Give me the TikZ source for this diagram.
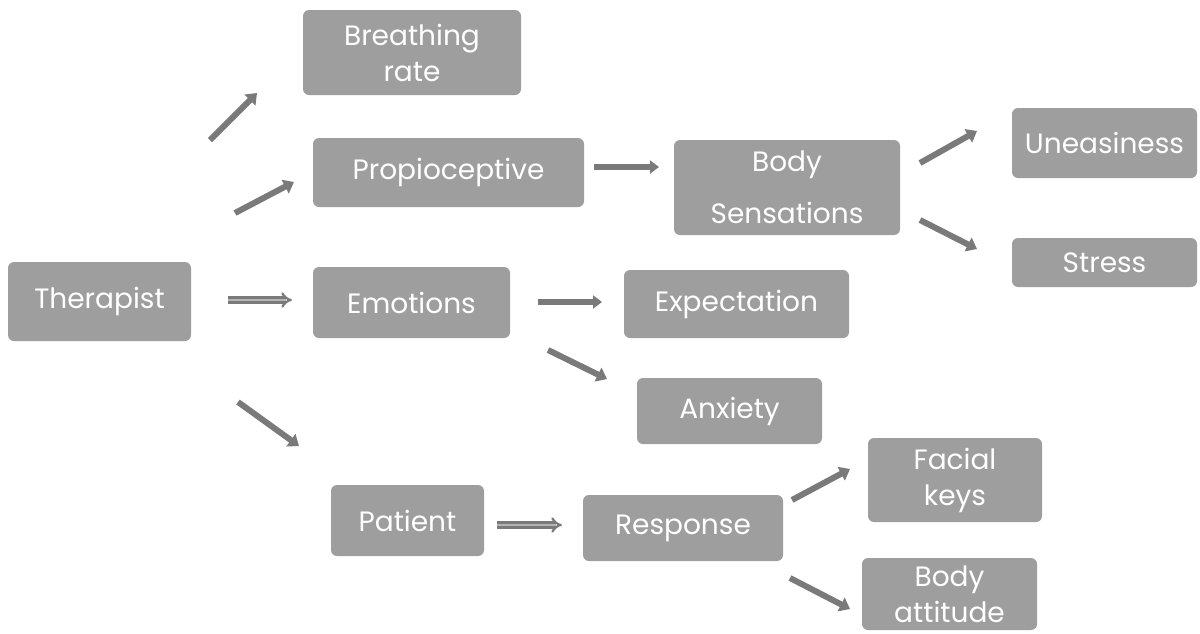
\documentclass[tikz,border=0pt]{standalone}
\usepackage{fontspec}
\setmainfont{Poppins}
\usetikzlibrary{arrows.meta}
\definecolor{boxgray}{HTML}{9E9E9E}
\definecolor{arrowgray}{HTML}{7A7A7A}
\definecolor{innergray}{HTML}{B4B4B4}
\begin{document}
\begin{tikzpicture}[x=0.5pt,y=-0.5pt,
  box/.style={rectangle, rounded corners=3pt, fill=boxgray, text=white,
    font=\fontsize{14}{18}\selectfont, align=center, inner sep=0pt},
  solidarrow/.style={draw=arrowgray, line width=3pt,
    -{Triangle[length=5pt,width=7.5pt]}},
  thinarrow/.style={draw=arrowgray, line width=2.6pt,
    -{Triangle[length=4.5pt,width=6.5pt]}},
  doublearrow/.style={draw=arrowgray, line width=1.1pt, double=innergray,
    double distance=1.4pt, -{Implies}}]
\useasboundingbox (0,0) rectangle (1200,633);

% boxes
\node[box, minimum width=109pt, minimum height=42.5pt] (breath) at (412,52.5) {Breathing\\rate};
\node[box, minimum width=135.5pt, minimum height=34.5pt] (prop) at (448.5,172.5) {Propioceptive};
\node[box, minimum width=113pt, minimum height=47.5pt, font=\fontsize{14}{26}\selectfont] (body) at (787,187.5) {Body\\Sensations};
\node[box, minimum width=92.5pt, minimum height=35pt] (uneas) at (1104.5,143) {Uneasiness};
\node[box, minimum width=92.5pt, minimum height=24.5pt] (stress) at (1104.5,262.5) {Stress};
\node[box, minimum width=91.5pt, minimum height=39.5pt] (ther) at (99.5,301.5) {Therapist};
\node[box, minimum width=98.5pt, minimum height=35.5pt] (emo) at (411.5,302.5) {Emotions};
\node[box, minimum width=112.5pt, minimum height=34pt] (expect) at (736.5,304) {Expectation};
\node[box, minimum width=92.5pt, minimum height=33pt] (anx) at (729.5,411) {Anxiety};
\node[box, minimum width=87pt, minimum height=42pt] (facial) at (955,480) {Facial\\keys};
\node[box, minimum width=76.5pt, minimum height=35.5pt] (patient) at (407.5,520.5) {Patient};
\node[box, minimum width=100pt, minimum height=33pt] (resp) at (683,528) {Response};
\node[box, minimum width=87.5pt, minimum height=36pt] (bodyatt) at (949.5,594) {Body\\attitude};

% free arrow end points
\coordinate (t1a) at (210,140);  \coordinate (t1b) at (257,93);
\coordinate (t2a) at (235,213);  \coordinate (t2b) at (294,182);
\coordinate (t3a) at (228,300);  \coordinate (t3b) at (292,300);
\coordinate (t4a) at (238,402);  \coordinate (t4b) at (299,446);
\coordinate (p1a) at (594,167);  \coordinate (p1b) at (659,167);
\coordinate (b1a) at (920,163);  \coordinate (b1b) at (977,131);
\coordinate (b2a) at (920,220);  \coordinate (b2b) at (977,249);
\coordinate (e1a) at (538,302);  \coordinate (e1b) at (602,302);
\coordinate (e2a) at (548,350);  \coordinate (e2b) at (607,379);
\coordinate (pa1a) at (497,525); \coordinate (pa1b) at (562,525);
\coordinate (r1a) at (792,500);  \coordinate (r1b) at (850,469);
\coordinate (r2a) at (790,578);  \coordinate (r2b) at (850,609);

% connectors
\draw[solidarrow] (t1a) -- (t1b);
\draw[solidarrow] (t2a) -- (t2b);
\draw[doublearrow] (t3a) -- (t3b);
\draw[solidarrow] (t4a) -- (t4b);
\draw[thinarrow] (p1a) -- (p1b);
\draw[solidarrow] (b1a) -- (b1b);
\draw[solidarrow] (b2a) -- (b2b);
\draw[thinarrow] (e1a) -- (e1b);
\draw[solidarrow] (e2a) -- (e2b);
\draw[doublearrow] (pa1a) -- (pa1b);
\draw[solidarrow] (r1a) -- (r1b);
\draw[solidarrow] (r2a) -- (r2b);
\end{tikzpicture}
\end{document}
